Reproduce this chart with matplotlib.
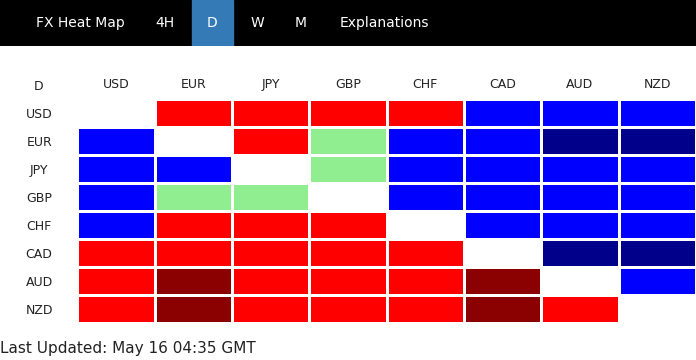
import numpy as np
import matplotlib
matplotlib.use("Agg")
import matplotlib.pyplot as plt
from matplotlib.colors import ListedColormap, BoundaryNorm

# currencies (rows = base, columns = quote)
currencies = ["USD", "EUR", "JPY", "GBP", "CHF", "CAD", "AUD", "NZD"]
# strength level: 2 strong up (navy), 1 up (blue), 0 neutral (light green),
# -1 down (red), -2 strong down (dark red), nan = same currency
levels = [
    [np.nan, -1, -1, -1, -1, 1, 1, 1],
    [1, np.nan, -1, 0, 1, 1, 2, 2],
    [1, 1, np.nan, 0, 1, 1, 1, 1],
    [1, 0, 0, np.nan, 1, 1, 1, 1],
    [1, -1, -1, -1, np.nan, 1, 1, 1],
    [-1, -1, -1, -1, -1, np.nan, 2, 2],
    [-1, -2, -1, -1, -1, -2, np.nan, 1],
    [-1, -2, -1, -1, -1, -2, -1, np.nan],
]
level_colors = ["#8B0000", "#FF0000", "#90EE90", "#0000FF", "#00008B"]
tabs = ["FX Heat Map", "4H", "D", "W", "M", "Explanations"]
active_tab = "D"
updated = "Last Updated: May 16 04:35 GMT"

W, H = 696, 360
TXT = "#222222"


def fx(px):
    return px / W


def fy(py):
    return 1 - py / H


fig = plt.figure(figsize=(W / 100, H / 100), dpi=100)
fig.patch.set_facecolor("white")

# top navigation bar
bar = fig.add_axes([0, fy(46), 1, 46 / H])
bar.set_facecolor("black")
bar.set_xlim(0, W)
bar.set_ylim(0, 1)
bar.set_xticks([])
bar.set_yticks([])
for s in bar.spines.values():
    s.set_visible(False)
tab_x = [80, 165, 212, 257, 301, 384]
for label, x in zip(tabs, tab_x):
    if label == active_tab:
        bar.axvspan(192, 233, color="#337AB7")
    bar.text(x, 0.5, label, color="white", fontsize=10,
             ha="center", va="center")

# heat map grid
col_w = W / 9
top, row_h = 99, 28
ax = fig.add_axes([fx(col_w), fy(top + 8 * row_h), 1 - fx(col_w), 8 * row_h / H])
data = np.ma.masked_invalid(np.array(levels, dtype=float))
cmap = ListedColormap(level_colors)
norm = BoundaryNorm([-2.5, -1.5, -0.5, 0.5, 1.5, 2.5], cmap.N)
ax.pcolormesh(data, cmap=cmap, norm=norm, edgecolors="white", linewidth=1.0)
ax.set_xlim(0, 8)
ax.set_ylim(8, 0)
for s in ax.spines.values():
    s.set_visible(False)

ax.xaxis.tick_top()
ax.set_xticks(np.arange(8) + 0.5)
ax.set_xticklabels(currencies, fontsize=9, color=TXT)
ax.tick_params(axis="x", length=0, pad=6)
ax.set_yticks(np.arange(8) + 0.5)
ax.set_yticklabels(currencies, fontsize=9, color=TXT, ha="center")
ax.tick_params(axis="y", length=0, pad=27.5)

fig.text(fx(col_w / 2), fy(86), active_tab, fontsize=9, color=TXT,
         ha="center", va="center")
fig.text(0, fy(348), updated, fontsize=11, color=TXT, ha="left", va="center")

fig.savefig("out.png", dpi=100)
